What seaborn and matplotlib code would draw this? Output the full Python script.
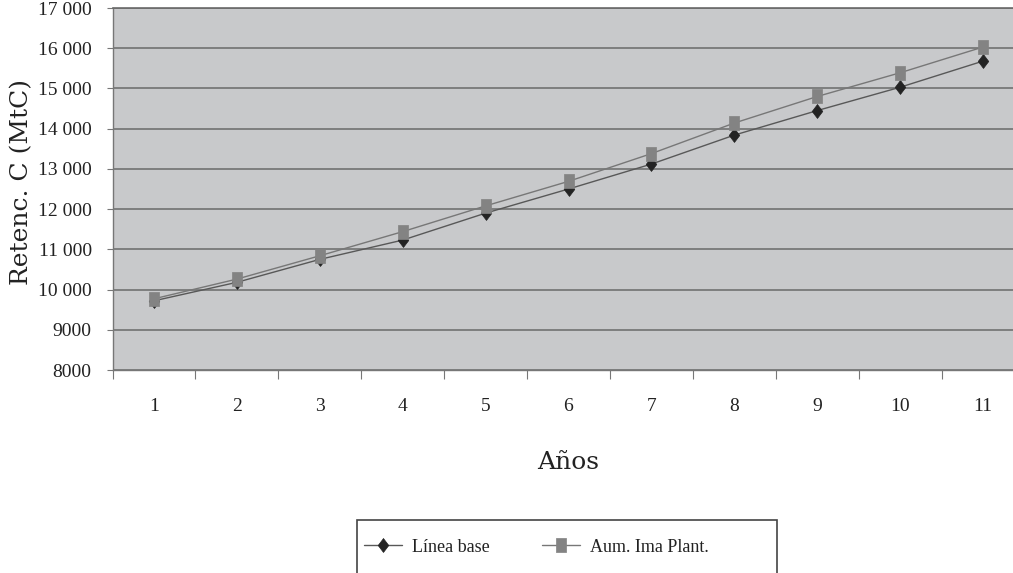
import numpy as np
import pandas as pd
import matplotlib
matplotlib.use("Agg")
import matplotlib.pyplot as plt
from matplotlib.patches import Rectangle
from matplotlib.ticker import FuncFormatter, MultipleLocator, FixedLocator
import seaborn as sns

# Carbon retention per year for the two scenarios
years = [1, 2, 3, 4, 5, 6, 7, 8, 9, 10, 11]
linea_base = [9720, 10180, 10750, 11230, 11900, 12500, 13120, 13840, 14450, 15030, 15680]
aum_ima_plant = [9770, 10260, 10840, 11440, 12080, 12690, 13380, 14140, 14800, 15390, 16030]
series_names = ["Línea base", "Aum. Ima Plant."]

y_label = "Retenc. C (MtC)"
x_label = "Años"

sns.set_style("white")
plt.rcParams["font.family"] = ["Liberation Serif", "DejaVu Serif"]

fig = plt.figure(figsize=(10.13, 5.73), dpi=100)
ax = fig.add_axes([112.5 / 1013, 1 - 370 / 573, 912 / 1013, 362 / 573])
ax.set_facecolor("#c8c9cb")

df = pd.DataFrame({"year": years, "base": linea_base, "aum": aum_ima_plant})

# tall, narrow marker shapes
diamond = [(0, 0.5), (0.38, 0), (0, -0.5), (-0.38, 0), (0, 0.5)]
square = [(-0.34, -0.5), (0.34, -0.5), (0.34, 0.5), (-0.34, 0.5), (-0.34, -0.5)]

sns.lineplot(data=df, x="year", y="base", ax=ax, color="#585858", lw=1.0,
             marker=diamond, markersize=10, markerfacecolor="#232323",
             markeredgecolor="#232323", markeredgewidth=0.5,
             label=series_names[0], zorder=3)
sns.lineplot(data=df, x="year", y="aum", ax=ax, color="#777777", lw=1.0,
             marker=square, markersize=10, markerfacecolor="#838383",
             markeredgecolor="#838383", markeredgewidth=0.5,
             label=series_names[1], zorder=4)

ax.set_xlim(0.5, 11.5)
ax.set_ylim(8000, 17000)

ax.yaxis.set_major_locator(MultipleLocator(1000))
ax.yaxis.set_major_formatter(FuncFormatter(
    lambda v, p: f"{int(v)}" if v < 10000 else f"{int(v):,}".replace(",", " ")))
ax.grid(axis="y", color="#6a6a6a", lw=1.1)
ax.grid(axis="x", visible=False)
ax.set_axisbelow(True)

ax.xaxis.set_major_locator(FixedLocator(years))
ax.xaxis.set_minor_locator(FixedLocator(np.arange(0.5, 12.0, 1.0)))
ax.tick_params(axis="x", which="major", length=0, pad=20, labelsize=14, labelcolor="#222222")
ax.tick_params(axis="x", which="minor", length=6.5, width=0.8, color="#777777", bottom=True)
ax.tick_params(axis="y", which="major", length=4, width=0.8, color="#777777", left=True,
               pad=11, labelsize=14, labelcolor="#222222")

for side in ["left", "bottom"]:
    ax.spines[side].set_color("#777777")
    ax.spines[side].set_linewidth(1.0)
ax.spines["top"].set_color("#6a6a6a")
ax.spines["top"].set_linewidth(1.2)
ax.spines["right"].set_visible(False)

ax.set_ylabel(y_label, fontsize=18, color="#222222", family="DejaVu Serif")
ax.yaxis.set_label_coords(-0.087, 0.518)
ax.set_xlabel(x_label, fontsize=18, color="#222222", family="DejaVu Serif", labelpad=26)

handles, labels = ax.get_legend_handles_labels()
ax.get_legend().remove()
leg = fig.legend(handles, labels, loc="center left",
                 bbox_to_anchor=(355 / 1013, 1 - 547 / 573), ncol=2,
                 frameon=False, fontsize=13, handlelength=2.1, handletextpad=0.55,
                 columnspacing=2.9, borderpad=0, labelcolor="#222222")

fig.patches.append(Rectangle((357 / 1013, -0.02), 420 / 1013, 1 - 520 / 573 + 0.02,
                             transform=fig.transFigure, fill=False,
                             edgecolor="#444444", lw=1.2))

fig.savefig("out.png", dpi=100)
